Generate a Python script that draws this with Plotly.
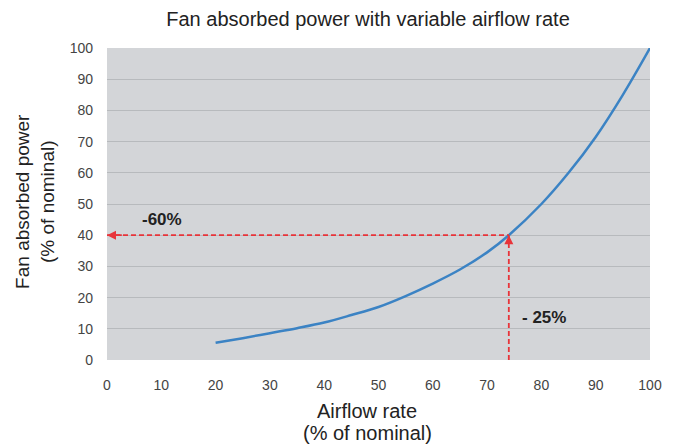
import plotly.graph_objects as go

airflow = [20, 25, 30, 35, 40, 45, 50, 55, 60, 65, 70, 74, 80, 85, 90, 95, 100]
power = [5.5, 7.0, 8.6, 10.2, 12.0, 14.4, 17.0, 20.5, 24.5, 29.0, 34.5, 40.0, 50.0, 60.0, 71.5, 85.0, 100.0]
x_ticks = [0, 10, 20, 30, 40, 50, 60, 70, 80, 90, 100]
y_ticks = [0, 10, 20, 30, 40, 50, 60, 70, 80, 90, 100]

op_flow = 74
op_power = 40
label_power = "-60%"
label_flow = "- 25%"

red = "#e8343a"
fig = go.Figure()
fig.add_trace(go.Scatter(x=airflow, y=power, mode="lines",
                         line=dict(color="#3b83c4", width=2.5, shape="spline"),
                         hoverinfo="skip", showlegend=False))
fig.add_trace(go.Scatter(x=[0, op_flow], y=[op_power, op_power], mode="lines",
                         line=dict(color=red, width=1.8, dash="5px,3px"), showlegend=False))
fig.add_trace(go.Scatter(x=[op_flow, op_flow], y=[0, op_power], mode="lines",
                         line=dict(color=red, width=1.8, dash="5px,3px"), showlegend=False))

fig.add_annotation(x=0, y=op_power, ax=3, ay=op_power, xref="x", yref="y", axref="x", ayref="y",
                   showarrow=True, arrowhead=2, arrowsize=1, arrowwidth=1.8, arrowcolor=red, text="")
fig.add_annotation(x=op_flow, y=op_power, ax=op_flow, ay=op_power - 3, xref="x", yref="y", axref="x", ayref="y",
                   showarrow=True, arrowhead=2, arrowsize=1, arrowwidth=1.8, arrowcolor=red, text="")
fig.add_annotation(x=10.2, y=44.9, xref="x", yref="y", text="<b>" + label_power + "</b>", showarrow=False,
                   font=dict(size=17, color="#222", family="Liberation Sans, Arial"))
fig.add_annotation(x=80.4, y=13.6, xref="x", yref="y", text="<b>" + label_flow + "</b>", showarrow=False,
                   font=dict(size=17, color="#222", family="Liberation Sans, Arial"))

title_font = dict(size=20, color="#222", family="Liberation Sans, Arial")
fig.add_annotation(x=0.479, y=-0.1635, xref="paper", yref="paper", yanchor="middle", xanchor="center",
                   text="Airflow rate", showarrow=False, font=title_font)
fig.add_annotation(x=0.479, y=-0.235, xref="paper", yref="paper", yanchor="middle", xanchor="center",
                   text="(% of nominal)", showarrow=False, font=title_font)
fig.add_annotation(x=-0.1326, y=0.51, xref="paper", yref="paper", yanchor="middle", xanchor="center",
                   textangle=-90, text="Fan absorbed power<br>(% of nominal)", showarrow=False,
                   font=dict(size=19, color="#222", family="Liberation Sans, Arial"))

fig.update_layout(
    width=668, height=438,
    margin=dict(l=99, r=26, t=40, b=86),
    paper_bgcolor="white", plot_bgcolor="#d3d5d8",
    font=dict(family="Liberation Sans, Arial", color="#444", size=14),
    title=dict(text="Fan absorbed power with variable airflow rate", x=0.539, xanchor="center",
               y=0.974, yanchor="middle", font=dict(size=20, color="#222")),
    showlegend=False,
)
fig.update_xaxes(range=[0, 100], tickvals=x_ticks, showgrid=False, zeroline=False,
                 showline=False, ticks="", ticklabelstandoff=15, tickfont=dict(size=14, color="#444"))
fig.update_yaxes(range=[0, 100], tickvals=y_ticks, showgrid=True, gridcolor="#b7babd", gridwidth=1,
                 zeroline=False, showline=False, ticks="", ticklabelstandoff=13,
                 tickfont=dict(size=14, color="#444"))

fig.write_html("out.html")
